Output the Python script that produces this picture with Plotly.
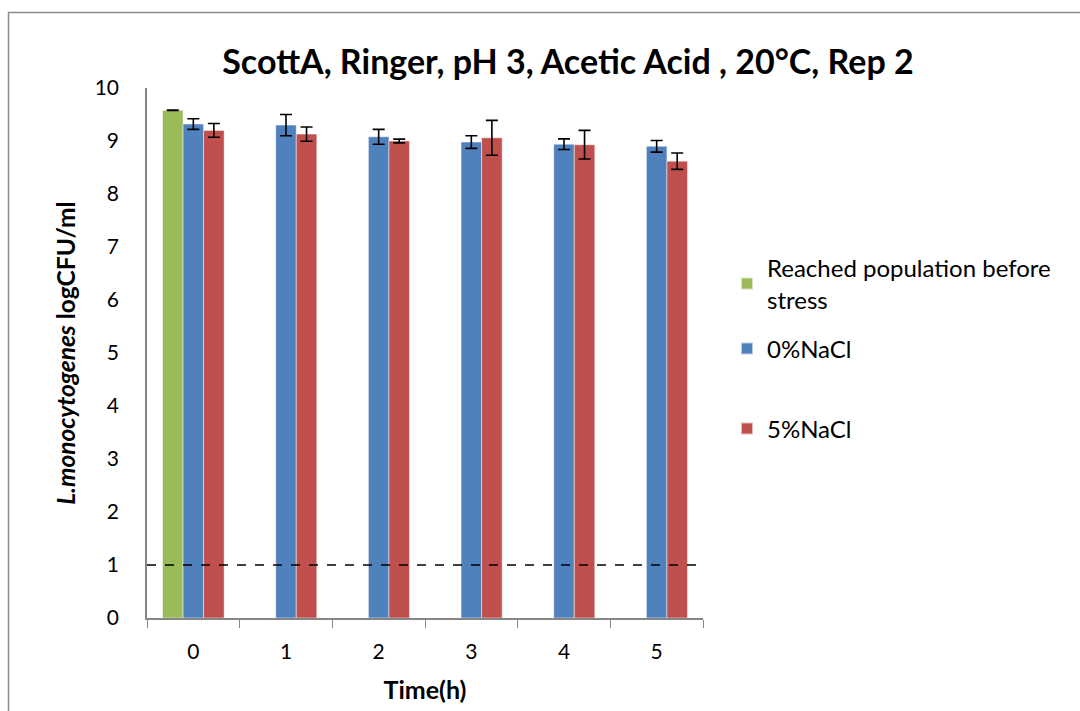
import plotly.graph_objects as go

# Sampling times (h)
times = ["0", "1", "2", "3", "4", "5"]

# Population reached before stress (only at t = 0)
pre_stress = [9.58, None, None, None, None, None]
pre_stress_err = [0.005, 0, 0, 0, 0, 0]

# Survivors, log CFU/ml
nacl0 = [9.32, 9.30, 9.08, 8.98, 8.94, 8.90]
nacl0_err = [0.10, 0.20, 0.14, 0.12, 0.10, 0.11]

nacl5 = [9.20, 9.13, 9.00, 9.06, 8.93, 8.62]
nacl5_err = [0.13, 0.135, 0.035, 0.33, 0.27, 0.155]

detection_limit = 1.0

FONT = "Lato"
GREEN, BLUE, RED = "#9BBB59", "#4F81BD", "#C0504D"

def err(arr):
    return dict(type="data", array=arr, visible=True, color="black",
                thickness=1.6, width=6)

edge = dict(color="rgba(255,255,255,0.6)", width=0.8)

fig = go.Figure()
fig.add_trace(go.Bar(x=times, y=pre_stress, name="Reached population before<br>stress",
                     marker=dict(color=GREEN, line=edge),
                     error_y=err(pre_stress_err), legend="legend"))
fig.add_trace(go.Bar(x=times, y=nacl0, name="0%NaCl",
                     marker=dict(color=BLUE, line=edge),
                     error_y=err(nacl0_err), legend="legend2"))
fig.add_trace(go.Bar(x=times, y=nacl5, name="5%NaCl",
                     marker=dict(color=RED, line=edge),
                     error_y=err(nacl5_err), legend="legend3"))

# Detection limit
fig.add_shape(type="line", xref="paper", x0=0, x1=1, yref="y",
              y0=detection_limit, y1=detection_limit,
              line=dict(color="black", width=1.5, dash="dash"))

# Chart frame
fig.add_shape(type="rect", xref="paper", yref="paper",
              x0=-138.5/556, x1=1.8, y0=-0.3, y1=1 + 75.5/530.3,
              line=dict(color="#8C8C8C", width=1.5), layer="below")

legend_common = dict(font=dict(family=FONT, size=24, color="black"),
                     bgcolor="rgba(0,0,0,0)", xanchor="left", yanchor="middle",
                     itemwidth=30, itemsizing="constant")
leg_x = (727 - 147) / 556

fig.update_layout(
    width=1080, height=711,
    margin=dict(l=147, r=377, t=88, b=93),
    paper_bgcolor="white", plot_bgcolor="white",
    showlegend=True,
    barmode="group", bargap=0.335, bargroupgap=0,
    title=dict(text="<b>ScottA, Ringer, pH 3, Acetic Acid , 20°C, Rep 2</b>",
               font=dict(family=FONT, size=34, color="black"),
               x=568/1080, xanchor="center", y=1 - 62/711, yanchor="middle"),
    xaxis=dict(type="category", tickson="boundaries", ticks="outside", ticklen=8,
               tickcolor="#868686", showline=True, linecolor="#868686", linewidth=1.5,
               ticklabelstandoff=14,
               tickfont=dict(family=FONT, size=21, color="black"),
               title=dict(text="<b>Time(h)</b>", font=dict(family=FONT, size=25, color="black"),
                          standoff=20)),
    yaxis=dict(range=[0, 10], dtick=1, showgrid=False, zeroline=False,
               showline=True, linecolor="#868686", linewidth=1.5, ticks="",
               ticklabelstandoff=22,
               tickfont=dict(family=FONT, size=21, color="black"),
               title=dict(text="<b><i>L.monocytogenes</i> logCFU/ml</b>",
                          font=dict(family=FONT, size=24.5, color="black"), standoff=12)),
    legend=dict(x=leg_x, y=(618.3 - 284) / 530.3, **legend_common),
    legend2=dict(x=leg_x, y=(618.3 - 349) / 530.3, **legend_common),
    legend3=dict(x=leg_x, y=(618.3 - 429) / 530.3, **legend_common),
)

fig.write_html("out.html")
